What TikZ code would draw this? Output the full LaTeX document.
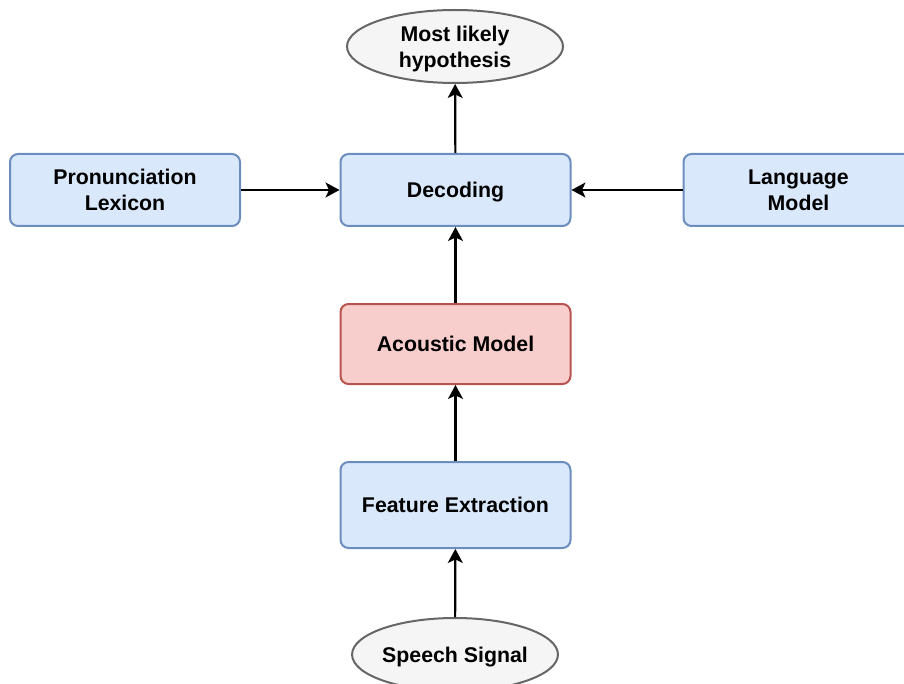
\documentclass[tikz,border=0pt]{standalone}
\usepackage{fontspec}
\setmainfont{Liberation Sans}
\usetikzlibrary{arrows.meta,shapes.geometric}
\definecolor{blueFill}{HTML}{DAE8FC}
\definecolor{blueLine}{HTML}{6C8EBF}
\definecolor{redFill}{HTML}{F8CECC}
\definecolor{redLine}{HTML}{B85450}
\definecolor{greyFill}{HTML}{F5F5F5}
\definecolor{greyLine}{HTML}{666666}
\tikzset{>={Stealth[length=7pt,width=7.5pt,inset=1.8pt]}}
\tikzset{
  lbl/.style={font=\fontsize{10.65}{13}\selectfont\bfseries, align=center, text=black, text depth=0pt},
  blockbox/.style={lbl, draw=blueLine, fill=blueFill, line width=1pt, rounded corners=4pt,
    minimum width=115pt, minimum height=36pt, inner sep=0pt},
  redbox/.style={blockbox, draw=redLine, fill=redFill},
  endpoint/.style={lbl, ellipse, draw=greyLine, fill=greyFill, line width=1pt,
    minimum width=108pt, minimum height=36.5pt, inner sep=0pt},
  flow/.style={->, line width=1.1pt}
}
\begin{document}
\begin{tikzpicture}[x=0.5pt,y=-0.5pt]
\clip (0,0) rectangle (904,684);
% nodes
\node[endpoint] (hyp) at (455,46.5) {Most likely\\hypothesis};
\node[blockbox] (dec) at (455.5,190) {Decoding};
\node[blockbox] (lex) at (125,190) {Pronunciation\\Lexicon};
\node[blockbox] (lm) at (798.5,190) {Language\\Model};
\node[redbox, minimum height=40pt] (am) at (455.5,344) {Acoustic Model};
\node[blockbox, minimum height=43pt] (fe) at (455.5,505) {Feature Extraction};
\node[endpoint, minimum width=102pt] (sig) at (455,654.5) {Speech Signal};
% connectors
\draw[flow] (dec) -- (hyp);
\draw[flow] (lex) -- (dec);
\draw[flow] (lm) -- (dec);
\draw[flow] (am) -- (dec);
\draw[flow] (fe) -- (am);
\draw[flow] (sig) -- (fe);
\end{tikzpicture}
\end{document}
